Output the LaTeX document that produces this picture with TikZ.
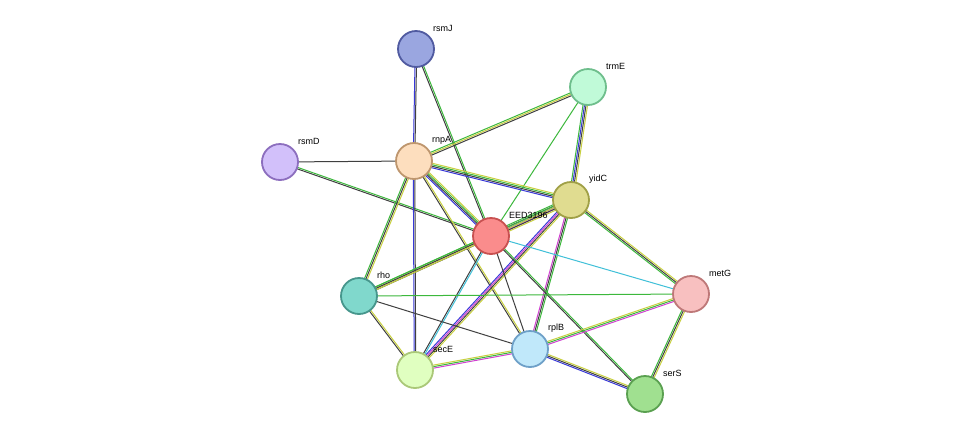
\documentclass[tikz,border=0pt]{standalone}
\usepackage{fontspec}
\setmainfont{Liberation Sans}
\usetikzlibrary{calc,backgrounds}
\definecolor{sg}{HTML}{3CB83C}
\definecolor{sk}{HTML}{404040}
\definecolor{sb}{HTML}{3838D8}
\definecolor{sm}{HTML}{D040D0}
\definecolor{sc}{HTML}{40C0D8}
\definecolor{sy}{HTML}{C8D040}
\newcommand\sedge[4]{%
  \foreach \c [count=\i] in {#4}{%
    \pgfmathsetmacro\o{(\i-(#3+1)/2)*1.5}
    \draw[\c,line width=1pt] ($(#1.center)!\o pt!90:(#2.center)$) -- ($(#2.center)!\o pt!-90:(#1.center)$);
  }}
\begin{document}
\begin{tikzpicture}[x=1pt,y=-1pt,
  prot/.style={circle,minimum size=36pt,inner sep=0pt,line width=1.8pt},
  lab/.style={font=\fontsize{9}{11}\selectfont,anchor=west,inner sep=0pt}]
\useasboundingbox (0,0) rectangle (975,440);
\node[prot,fill={rgb,255:red,154;green,166;blue,224},draw={rgb,255:red,80;green,90;blue,160}] (rsmJ) at (416,49) {};
\node[lab] (lrsmJ) at (433,28) {rsmJ};
\node[prot,fill={rgb,255:red,192;green,250;blue,216},draw={rgb,255:red,110;green,190;blue,140}] (trmE) at (588,87) {};
\node[lab] (ltrmE) at (606,66) {trmE};
\node[prot,fill={rgb,255:red,210;green,192;blue,250},draw={rgb,255:red,140;green,110;blue,190}] (rsmD) at (280,162) {};
\node[lab] (lrsmD) at (298,141) {rsmD};
\node[prot,fill={rgb,255:red,253;green,222;blue,190},draw={rgb,255:red,190;green,150;blue,110}] (rnpA) at (414,161) {};
\node[lab] (lrnpA) at (432,140) {rnpA};
\node[prot,fill={rgb,255:red,250;green,140;blue,140},draw={rgb,255:red,200;green,80;blue,80}] (EED) at (491,236) {};
\node[lab] (lEED) at (509,215) {EED3196};
\node[prot,fill={rgb,255:red,224;green,220;blue,144},draw={rgb,255:red,160;green,160;blue,70}] (yidC) at (571,200) {};
\node[lab] (lyidC) at (589,179) {yidC};
\node[prot,fill={rgb,255:red,128;green,216;blue,204},draw={rgb,255:red,70;green,150;blue,140}] (rho) at (359,296) {};
\node[lab] (lrho) at (377,275) {rho};
\node[prot,fill={rgb,255:red,248;green,192;blue,192},draw={rgb,255:red,190;green,120;blue,120}] (metG) at (691,294) {};
\node[lab] (lmetG) at (709,273) {metG};
\node[prot,fill={rgb,255:red,192;green,232;blue,250},draw={rgb,255:red,110;green,160;blue,200}] (rplB) at (530,349) {};
\node[lab] (lrplB) at (548,328) {rplB};
\node[prot,fill={rgb,255:red,224;green,255;blue,192},draw={rgb,255:red,170;green,200;blue,120}] (secE) at (415,370) {};
\node[lab] (lsecE) at (433,349) {secE};
\node[prot,fill={rgb,255:red,160;green,224;blue,144},draw={rgb,255:red,90;green,160;blue,80}] (serS) at (645,394) {};
\node[lab] (lserS) at (663,373) {serS};
\begin{scope}[on background layer]
\fill[white] (0,0) rectangle (975,440);
\sedge{rsmJ}{rnpA}{2}{sb,sk}
\sedge{rsmJ}{EED}{2}{sk,sg}
\sedge{trmE}{rnpA}{3}{sg,sy,sk}
\sedge{trmE}{yidC}{4}{sg,sb,sk,sy}
\sedge{trmE}{EED}{1}{sg}
\sedge{rsmD}{rnpA}{1}{sk}
\sedge{rsmD}{EED}{2}{sk,sg}
\sedge{rnpA}{yidC}{4}{sb,sk,sg,sy}
\sedge{rnpA}{EED}{4}{sb,sk,sg,sy}
\sedge{rnpA}{rho}{3}{sg,sk,sy}
\sedge{rnpA}{secE}{2}{sb,sk}
\sedge{rnpA}{rplB}{2}{sk,sy}
\sedge{yidC}{EED}{5}{sg,sk,sb,sm,sy}
\sedge{yidC}{rho}{3}{sg,sy,sk}
\sedge{yidC}{metG}{3}{sg,sk,sy}
\sedge{yidC}{secE}{4}{sb,sm,sk,sy}
\sedge{yidC}{rplB}{3}{sm,sk,sg}
\sedge{EED}{rho}{3}{sg,sk,sy}
\sedge{EED}{secE}{2}{sk,sc}
\sedge{EED}{rplB}{1}{sk}
\sedge{EED}{serS}{2}{sk,sg}
\sedge{EED}{metG}{1}{sc}
\sedge{rho}{secE}{2}{sk,sy}
\sedge{rho}{rplB}{1}{sk}
\sedge{rho}{metG}{1}{sg}
\sedge{secE}{rplB}{3}{sm,sg,sy}
\sedge{rplB}{metG}{3}{sm,sg,sy}
\sedge{rplB}{serS}{3}{sb,sk,sy}
\sedge{metG}{serS}{3}{sg,sk,sy}
\end{scope}
\end{tikzpicture}
\end{document}
